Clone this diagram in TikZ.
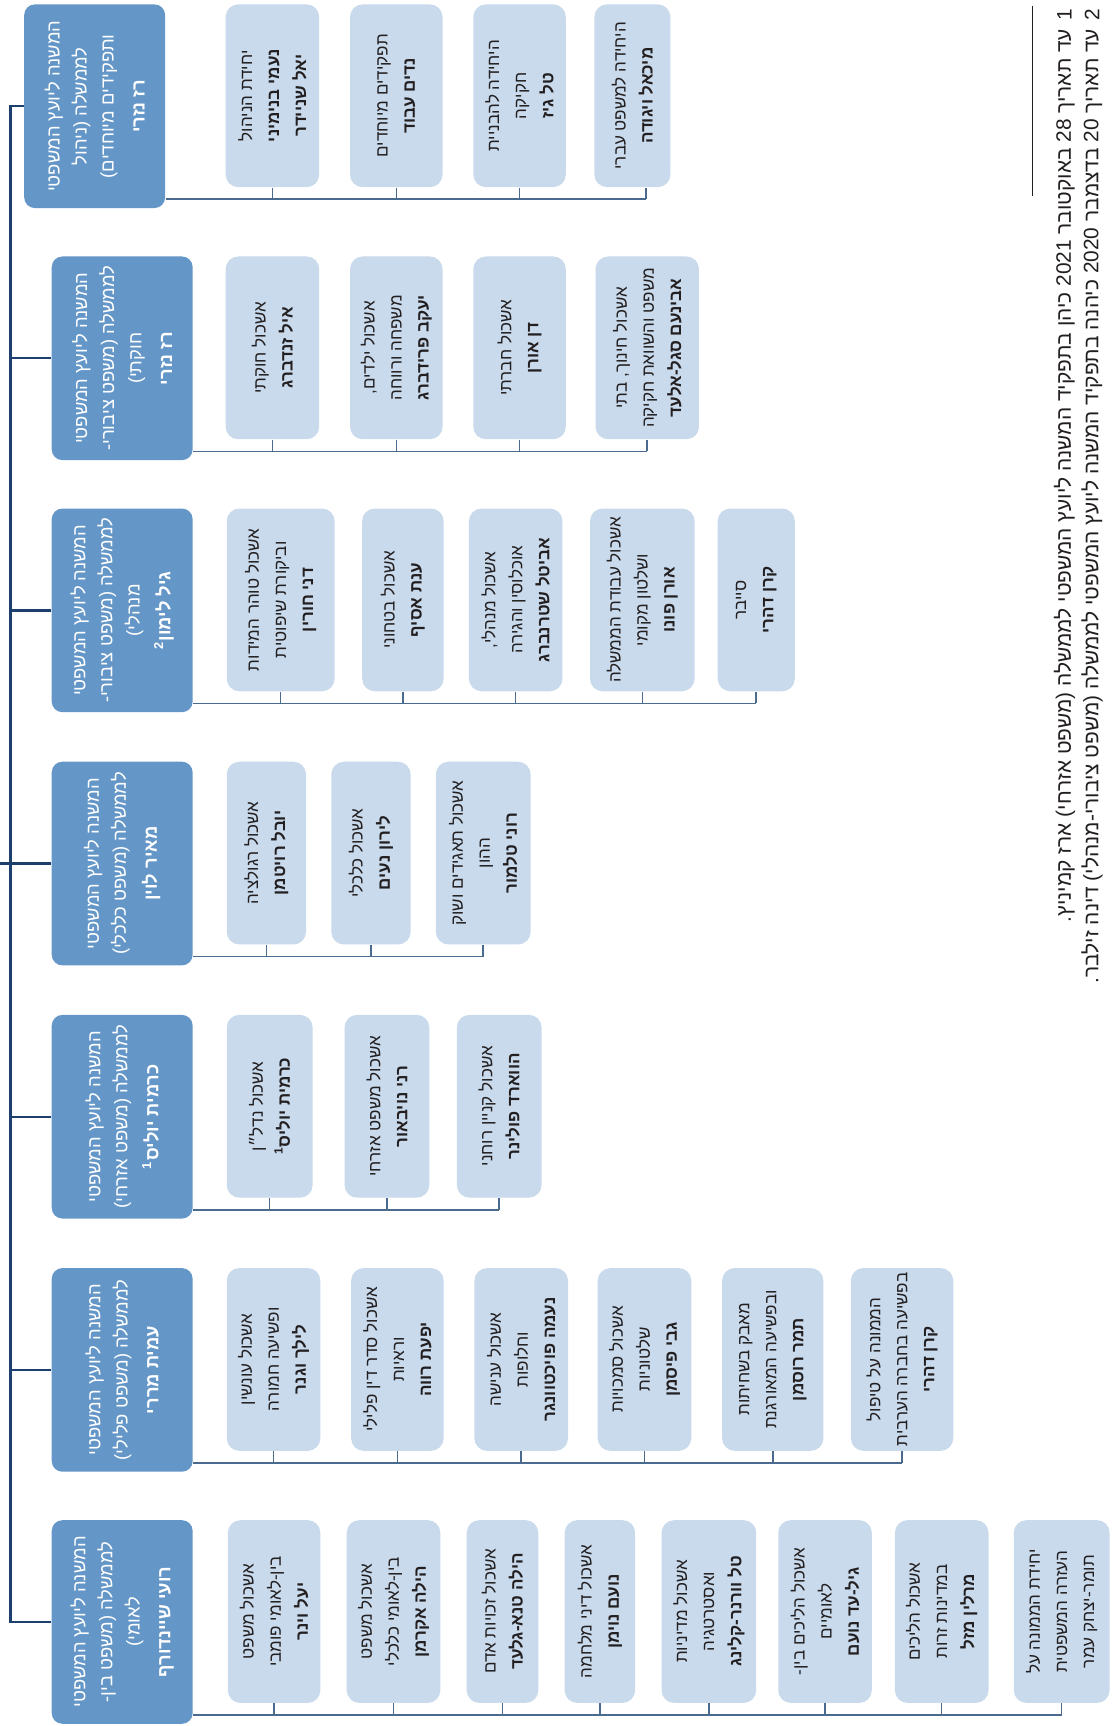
\documentclass[tikz,border=0pt]{standalone}
\usepackage{fontspec}
\newfontfamily\hebfont[Script=Hebrew]{Liberation Sans}
\TeXXeTstate=1
\usetikzlibrary{positioning,calc}
\definecolor{hdrBlue}{HTML}{6497C8}
\definecolor{unitBlue}{HTML}{C8DAEC}
\definecolor{trunkNavy}{HTML}{1D3F6E}
\definecolor{busBlue}{HTML}{4A6A8E}
\definecolor{inkDark}{HTML}{231F20}
\newcommand{\upx}{0.02cm}
\newcommand{\rl}[1]{\beginR#1\endR}
\tikzset{
  orgChart/.style={
    x=\upx, y=-\upx,
    font=\hebfont\fontsize{10}{14}\selectfont,
  },
  hdrBox/.style={
    rotate=90, fill=hdrBlue, text=white, rounded corners=5.5pt,
    minimum width=185*\upx, minimum height=128*\upx,
    align=center, inner sep=2pt,
    font=\hebfont\fontsize{9.5}{14}\selectfont,
  },
  unitBox/.style={
    rotate=90, fill=unitBlue, text=inkDark, rounded corners=6.5pt,
    minimum width=166*\upx, minimum height=#1*\upx,
    align=center, inner sep=2pt,
    font=\hebfont\fontsize{8.8}{14}\selectfont,
  },
  trunk/.style={draw=trunkNavy, line width=1.2pt},
  bus/.style={draw=busBlue, line width=0.8pt},
  footRule/.style={draw=inkDark, line width=0.5pt},
  footText/.style={rotate=90, anchor=east, text=inkDark, inner sep=0pt,
    font=\hebfont\fontsize{10.8}{14}\selectfont},
}

\begin{document}
\begin{tikzpicture}[orgChart]
\useasboundingbox (0,0) rectangle (1010,1568);
\fill[white] (0,0) rectangle (1010,1568);

% top edge of every row
\def\gA{4}
\def\gB{233}
\def\gC{462}
\def\gD{692}
\def\gE{922}
\def\gF{1152}
\def\gG{1381}

% ============================================================
% Deputies (dark boxes, left column)
% ============================================================
\node[hdrBox] (hA) at (86,\gA+92.5)
  {\rl{המשנה ליועץ המשפטי}\\\rl{לממשלה (ניהול}\\\rl{ותפקידים מיוחדים)}\\[2pt]\textbf{\rl{רז נזרי}}};
\node[hdrBox] (hB) at (111,\gB+92.5)
  {\rl{המשנה ליועץ המשפטי}\\\rl{לממשלה (משפט ציבורי-}\\\rl{חוקתי)}\\[2pt]\textbf{\rl{רז נזרי}}};
\node[hdrBox] (hC) at (111,\gC+92.5)
  {\rl{המשנה ליועץ המשפטי}\\\rl{לממשלה (משפט ציבורי-}\\\rl{מנהלי)}\\[2pt]\textbf{\rl{גיל לימון\textsuperscript{2}}}};
\node[hdrBox] (hD) at (111,\gD+92.5)
  {\rl{המשנה ליועץ המשפטי}\\\rl{לממשלה (משפט כלכלי)}\\[2pt]\textbf{\rl{מאיר לוין}}};
\node[hdrBox] (hE) at (111,\gE+92.5)
  {\rl{המשנה ליועץ המשפטי}\\\rl{לממשלה (משפט אזרחי)}\\[2pt]\textbf{\rl{כרמית יוליס\textsuperscript{1}}}};
\node[hdrBox] (hF) at (111,\gF+92.5)
  {\rl{המשנה ליועץ המשפטי}\\\rl{לממשלה (משפט פלילי)}\\[2pt]\textbf{\rl{עמית מררי}}};
\node[hdrBox] (hG) at (111,\gG+92.5)
  {\rl{המשנה ליועץ המשפטי}\\\rl{לממשלה (משפט בין-}\\\rl{לאומי)}\\[2pt]\textbf{\rl{רועי שיינדורף}}};

% trunk on the far left
\draw[trunk] (hA.north) -- ++(-12,0) |- (hG.north);
\draw[trunk] (hB.north) -- ++(-37,0);
\draw[trunk] (hC.north) -- ++(-37,0);
\draw[trunk] (hD.north) -- ++(-47,0);
\draw[trunk] (hE.north) -- ++(-37,0);
\draw[trunk] (hF.north) -- ++(-37,0);

% ============================================================
% Row A: management and special roles
% ============================================================
\node[unitBox=85] (a1) at (247.5,\gA+83)
  {\rl{יחידת הניהול}\\\textbf{\rl{נעמי בנימיני}}\\\textbf{\rl{יאל שניידר}}};
\node[unitBox=84] (a2) at (360,\gA+83)
  {\rl{תפקידים מיוחדים}\\\textbf{\rl{נדים עבוד}}};
\node[unitBox=84] (a3) at (472,\gA+83)
  {\rl{היחידה להבניית}\\\rl{חקיקה}\\\textbf{\rl{טל גיז}}};
\node[unitBox=69] (a4) at (574.5,\gA+83)
  {\rl{היחידה למשפט עברי}\\\textbf{\rl{מיכאל ויגודה}}};

\coordinate (busA) at (587,\gA+177);
\draw[bus] (hA.south |- busA) -- (busA);
\foreach \u in {a1,a2,a3}
  \draw[bus] (\u.west) -- (\u.west |- busA);
\draw[bus] (busA) -- (busA |- a4.west);

% ============================================================
% Row B: public-constitutional law
% ============================================================
\node[unitBox=85] (b1) at (247.5,\gB+83)
  {\rl{אשכול חוקתי}\\\textbf{\rl{איל זנדברג}}};
\node[unitBox=84] (b2) at (360,\gB+83)
  {\rl{אשכול ילדים,}\\\rl{משפחה ורווחה}\\\textbf{\rl{יעקב פרידברג}}};
\node[unitBox=84] (b3) at (472,\gB+83)
  {\rl{אשכול חברתי}\\\textbf{\rl{דן אורן}}};
\node[unitBox=94] (b4) at (588,\gB+83)
  {\rl{אשכול חינוך, בתי}\\\rl{משפט והשוואת חקיקה}\\\textbf{\rl{אבינעם סגל-אלעד}}};

\coordinate (busB) at (588,\gB+177);
\draw[bus] (hB.south |- busB) -- (busB);
\foreach \u in {b1,b2,b3,b4}
  \draw[bus] (\u.west) -- (\u.west |- busB);

% ============================================================
% Row C: public-administrative law
% ============================================================
\node[unitBox=98] (c1) at (255,\gC+83)
  {\rl{אשכול טוהר המידות}\\\rl{וביקורת שיפוטית}\\\textbf{\rl{דני חורין}}};
\node[unitBox=74] (c2) at (366,\gC+83)
  {\rl{אשכול בטחוני}\\\textbf{\rl{ענת אסיף}}};
\node[unitBox=85] (c3) at (468.5,\gC+83)
  {\rl{אשכול מנהלי,}\\\rl{אוכלוסין והגירה}\\\textbf{\rl{אביטל שטרנברג}}};
\node[unitBox=95] (c4) at (583.5,\gC+83)
  {\rl{אשכול עבודת הממשלה}\\\rl{ושלטון מקומי}\\\textbf{\rl{אורן פונו}}};
\node[unitBox=70] (c5) at (687,\gC+83)
  {\rl{סייבר}\\\textbf{\rl{קרן דהרי}}};

\coordinate (busC) at (687,\gC+177);
\draw[bus] (hC.south |- busC) -- (busC);
\foreach \u in {c1,c2,c3,c4,c5}
  \draw[bus] (\u.west) -- (\u.west |- busC);

% ============================================================
% Row D: economic law
% ============================================================
\node[unitBox=72] (d1) at (242,\gD+83)
  {\rl{אשכול רגולציה}\\\textbf{\rl{יובל רויטמן}}};
\node[unitBox=72] (d2) at (337,\gD+83)
  {\rl{אשכול כלכלי}\\\textbf{\rl{לירון נעים}}};
\node[unitBox=86] (d3) at (439,\gD+83)
  {\rl{אשכול תאגידים ושוק}\\\rl{ההון}\\\textbf{\rl{רוני טלמור}}};

\coordinate (busD) at (439,\gD+177);
\draw[bus] (hD.south |- busD) -- (busD);
\foreach \u in {d1,d2,d3}
  \draw[bus] (\u.west) -- (\u.west |- busD);

% ============================================================
% Row E: civil law
% ============================================================
\node[unitBox=78] (e1) at (245,\gE+83)
  {\rl{אשכול נדל״ן}\\\textbf{\rl{כרמית יוליס\textsuperscript{1}}}};
\node[unitBox=77] (e2) at (351.5,\gE+83)
  {\rl{אשכול משפט אזרחי}\\\textbf{\rl{רני נויבאור}}};
\node[unitBox=77] (e3) at (453.5,\gE+83)
  {\rl{אשכול קניין רוחני}\\\textbf{\rl{הווארד פולינר}}};

\coordinate (busE) at (453.5,\gE+177);
\draw[bus] (hE.south |- busE) -- (busE);
\foreach \u in {e1,e2,e3}
  \draw[bus] (\u.west) -- (\u.west |- busE);

% ============================================================
% Row F: criminal law
% ============================================================
\node[unitBox=85] (f1) at (248.5,\gF+83)
  {\rl{אשכול עונשין}\\\rl{ופשיעה חמורה}\\\textbf{\rl{לילך וגנר}}};
\node[unitBox=84] (f2) at (361,\gF+83)
  {\rl{אשכול סדר דין פלילי}\\\rl{וראיות}\\\textbf{\rl{יפעת רווה}}};
\node[unitBox=85] (f3) at (473.5,\gF+83)
  {\rl{אשכול ענישה}\\\rl{וחלופות}\\\textbf{\rl{נעמה פויכטוונגר}}};
\node[unitBox=85] (f4) at (585.5,\gF+83)
  {\rl{אשכול סמכויות}\\\rl{שלטוניות}\\\textbf{\rl{גבי פיסמן}}};
\node[unitBox=92] (f5) at (702,\gF+83)
  {\rl{מאבק בשחיתות}\\\rl{ובפשיעה המאורגנת}\\\textbf{\rl{תמר רוסמן}}};
\node[unitBox=93] (f6) at (819.5,\gF+83)
  {\rl{הממונה על טיפול}\\\rl{בפשיעה בחברה הערבית}\\\textbf{\rl{קרן דהרי}}};

\coordinate (busF) at (819.5,\gF+177);
\draw[bus] (hF.south |- busF) -- (busF);
\foreach \u in {f1,f2,f3,f4,f5,f6}
  \draw[bus] (\u.west) -- (\u.west |- busF);

% ============================================================
% Row G: international law
% ============================================================
\node[unitBox=84] (g1) at (249,\gG+83)
  {\rl{אשכול משפט}\\\rl{בין-לאומי פומבי}\\\textbf{\rl{יעל וינר}}};
\node[unitBox=85] (g2) at (357.5,\gG+83)
  {\rl{אשכול משפט}\\\rl{בין-לאומי כלכלי}\\\textbf{\rl{הילה אקרמן}}};
\node[unitBox=65] (g3) at (456.5,\gG+83)
  {\rl{אשכול זכויות אדם}\\\textbf{\rl{הילה טנא-גלעד}}};
\node[unitBox=64] (g4) at (545,\gG+83)
  {\rl{אשכול דיני מלחמה}\\\textbf{\rl{נועם נוימן}}};
\node[unitBox=86] (g5) at (644,\gG+83)
  {\rl{אשכול מדיניות}\\\rl{ואסטרטגיה}\\\textbf{\rl{טל וורנר-קלינג}}};
\node[unitBox=85] (g6) at (749.5,\gG+83)
  {\rl{אשכול הליכים בין-}\\\rl{לאומיים}\\\textbf{\rl{גיל-עד נועם}}};
\node[unitBox=85] (g7) at (855.5,\gG+83)
  {\rl{אשכול הליכים}\\\rl{במדינות זרות}\\\textbf{\rl{מרלין מזל}}};
\node[unitBox=87] (g8) at (964.5,\gG+83)
  {\rl{יחידת הממונה על}\\\rl{העזרה המשפטית}\\\rl{תומר-יצחק עמר}};

\coordinate (busG) at (964.5,\gG+177);
\draw[bus] (hG.south |- busG) -- (busG);
\foreach \u in {g1,g2,g3,g4,g5,g6,g7,g8}
  \draw[bus] (\u.west) -- (\u.west |- busG);

% ============================================================
% Footnotes, right edge
% ============================================================
\draw[footRule] (938,5) -- (938,178);
\node[footText] (fnA) at (967,8) {1};
\node[footText] (fnAtext) at (967,26)
  {\rl{עד תאריך 28 באוקטובר 2021 כיהן בתפקיד המשנה ליועץ המשפטי לממשלה (משפט אזרחי) ארז קמיניץ.}};
\node[footText] (fnB) at (992,8) {2};
\node[footText] (fnBtext) at (992,26)
  {\rl{עד תאריך 20 בדצמבר 2020 כיהנה בתפקיד המשנה ליועץ המשפטי לממשלה (משפט ציבורי-מנהלי) דינה זילבר.}};

\end{tikzpicture}
\end{document}
